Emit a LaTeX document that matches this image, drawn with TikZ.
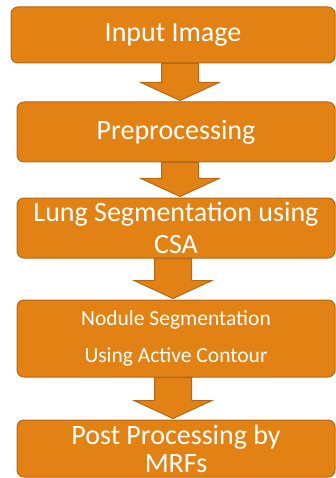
\documentclass[tikz,border=0pt]{standalone}
\usepackage{fontspec}
\setmainfont{Carlito}
\usetikzlibrary{calc, positioning}
\definecolor{stepfill}{RGB}{227,130,20}
\definecolor{stepline}{RGB}{178,104,22}
\tikzset{
  stage/.style={
    rectangle, rounded corners=7pt, minimum width=318pt, minimum height=60pt,
    align=center, draw=stepline, line width=1pt, fill=stepfill, text=white,
    inner sep=0pt, font=\fontsize{28}{32}\selectfont
  },
  flow/.style={
    draw=stepline, line width=1pt, fill=stepfill, line join=miter
  }
}

\begin{document}
\begin{tikzpicture}[x=1pt, y=-1pt]
    \useasboundingbox (0,0) rectangle (336,478);

    % Etapes
    \node[stage, minimum width=324pt, minimum height=56pt] (input) at (173,35) {Input Image};
    \node[stage] (prep) at (176,132) {Preprocessing};
    \node[stage] (lung) at (176,228) {Lung Segmentation using\\CSA};
    \node[stage, minimum height=77pt, font=\fontsize{21.5}{37}\selectfont] (nodule) at (176,338.5) {Nodule Segmentation\\Using Active Contour};
    \node[stage, minimum height=57pt, font=\fontsize{28}{28}\selectfont] (post) at (176,448.5) {Post Processing by\\MRFs};

    % Fleches
    \foreach \a/\b/\dx in {input/prep/4, prep/lung/4, lung/nodule/-3, nodule/post/-3} {
        \draw[flow] ($(\a.south -| \b.north)+(\dx-18.5,0)$)
            -- ($(\a.south -| \b.north)+(\dx+18.5,0)$)
            -- ($(\b.north)+(\dx+18.5,-19)$) -- ($(\b.north)+(\dx+39,-19)$)
            -- ($(\b.north)+(\dx,-1)$) -- ($(\b.north)+(\dx-39,-19)$)
            -- ($(\b.north)+(\dx-18.5,-19)$) -- cycle;
    }

\end{tikzpicture}
\end{document}
